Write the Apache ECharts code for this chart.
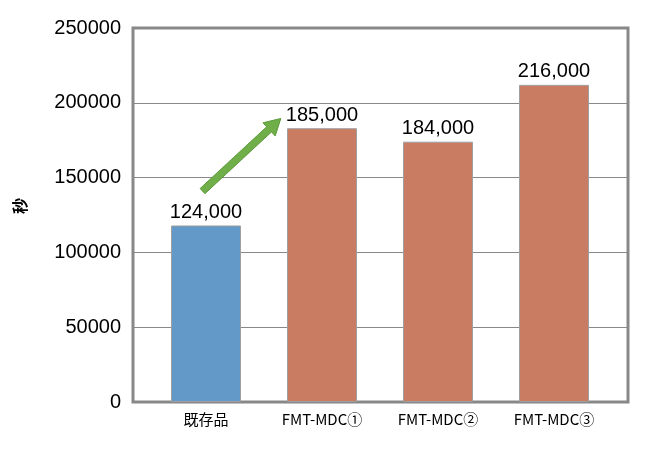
<!DOCTYPE html>
<html><head><meta charset="utf-8">
<script src="https://cdn.jsdelivr.net/npm/echarts@6/dist/echarts.min.js"></script>
<style>html,body{margin:0;padding:0;background:#fff}#c{width:650px;height:450px}</style>
</head><body><div id="c"></div>
<script>
const categories = ['既存品', 'FMT-MDC①', 'FMT-MDC②', 'FMT-MDC③'];
const barValues = [118000, 183000, 174000, 212000];
const barLabels = ['124,000', '185,000', '184,000', '216,000'];
const barColors = ['#6399c9', '#c97c62', '#c97c62', '#c97c62'];
const yTicks = [0, 50000, 100000, 150000, 200000, 250000];
const yName = '秒';
// arrow annotation: [category position, value]
const arrowFrom = [-0.03, 141000];
const arrowTo = [0.645, 189500];

const chart = echarts.init(document.getElementById('c'));
const yMax = yTicks[yTicks.length - 1];
const yInterval = yTicks[1] - yTicks[0];
chart.setOption({
  animation: false,
  grid: [
    {left: 133, right: 22, top: 28, bottom: 48, show: true, borderColor: '#888', borderWidth: 3, backgroundColor: 'transparent'},
    {left: 148, right: 38, top: 28, bottom: 48}
  ],
  xAxis: [
    {gridIndex: 0, type: 'category', data: categories, show: false},
    {gridIndex: 1, type: 'category', data: categories,
     axisLine: {show: false}, axisTick: {show: false},
     axisLabel: {fontFamily: 'Noto Sans CJK JP', fontSize: 15, color: '#000', margin: 10}}
  ],
  yAxis: [
    {gridIndex: 0, type: 'value', min: 0, max: yMax, interval: yInterval,
     name: yName, nameLocation: 'middle', nameGap: 105, nameRotate: 90,
     nameTextStyle: {fontFamily: 'Noto Sans CJK JP', fontSize: 16, fontWeight: 'bold', color: '#000', padding: [0, 0, 0, 18]},
     axisLine: {show: false}, axisTick: {show: false},
     axisLabel: {fontFamily: 'Liberation Sans', fontSize: 20, color: '#000', margin: 12, formatter: v => String(v)},
     splitLine: {show: true, lineStyle: {color: '#888', width: 1}}},
    {gridIndex: 1, type: 'value', min: 0, max: yMax, interval: yInterval, show: false}
  ],
  series: [{
    type: 'bar', xAxisIndex: 1, yAxisIndex: 1, barWidth: 70,
    data: barValues.map((v, i) => ({value: v, itemStyle: {color: barColors[i]}})),
    itemStyle: {borderColor: '#a0a0a0', borderWidth: 1},
    label: {show: true, position: 'top', distance: 3, fontFamily: 'Liberation Sans', fontSize: 20, color: '#000',
      formatter: p => barLabels[p.dataIndex]}
  }]
});

function toPx(pt) {
  const c0 = chart.convertToPixel({xAxisIndex: 1}, categories[0]);
  const c1 = chart.convertToPixel({xAxisIndex: 1}, categories[1]);
  const x = c0 + (c1 - c0) * pt[0];
  const y = chart.convertToPixel({yAxisIndex: 1}, pt[1]);
  return [x, y];
}
const s = toPx(arrowFrom), t = toPx(arrowTo);
const dx = t[0] - s[0], dy = t[1] - s[1], L = Math.hypot(dx, dy);
const ux = dx / L, uy = dy / L, nx = -uy, ny = ux;
const hw = 3.5, hhw = 9, hl = 16;
const hx = t[0] - ux * hl, hy = t[1] - uy * hl;
const pts = [
  [s[0] + nx * hw, s[1] + ny * hw], [hx + nx * hw, hy + ny * hw], [hx + nx * hhw, hy + ny * hhw],
  [t[0], t[1]], [hx - nx * hhw, hy - ny * hhw], [hx - nx * hw, hy - ny * hw], [s[0] - nx * hw, s[1] - ny * hw]
];
chart.setOption({graphic: [{type: 'polygon', shape: {points: pts}, style: {fill: '#6fae48', stroke: '#5b9a3a', lineWidth: 1}, z: 100}]});
</script></body></html>
